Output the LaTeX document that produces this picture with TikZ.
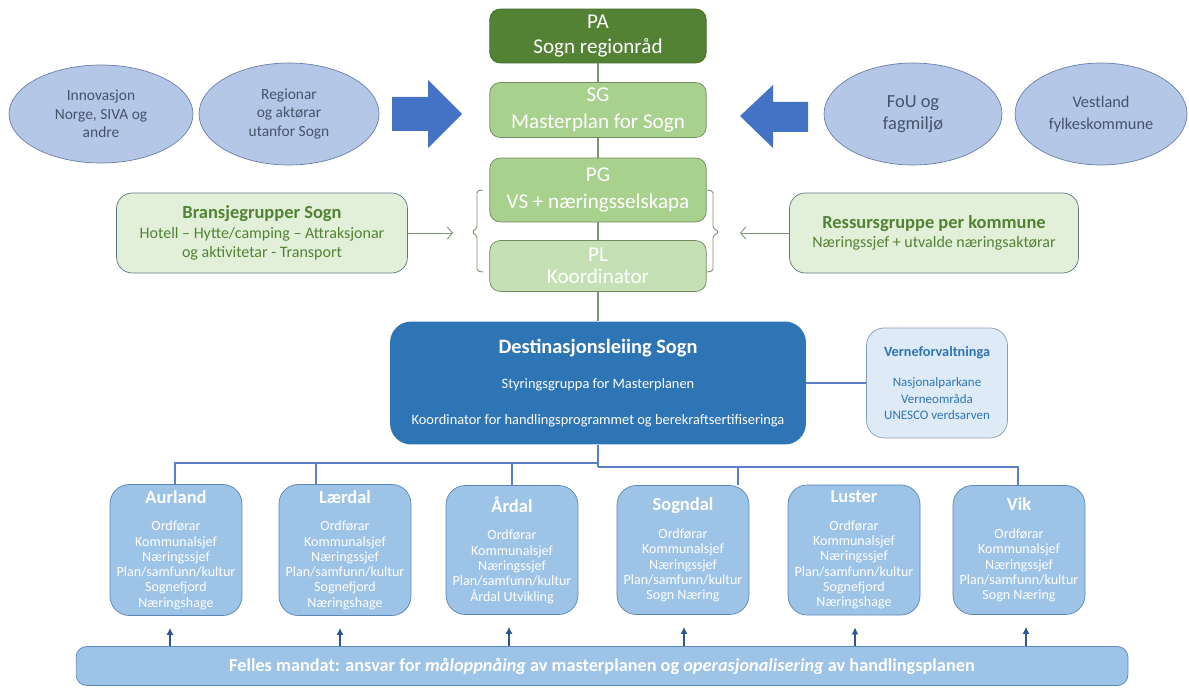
\documentclass[tikz,border=0pt]{standalone}
\usepackage{fontspec}
\setmainfont{Carlito}
\usetikzlibrary{arrows.meta,shapes.geometric}
\definecolor{padark}{HTML}{548235}
\definecolor{paborder}{HTML}{41692A}
\definecolor{sgfill}{HTML}{A9D18E}
\definecolor{plfill}{HTML}{C5E0B4}
\definecolor{sgborder}{HTML}{71895F}
\definecolor{sidefill}{HTML}{E2F0D9}
\definecolor{sideborder}{HTML}{5F7486}
\definecolor{cloudfill}{HTML}{B4C7E7}
\definecolor{cloudborder}{HTML}{6A7FA8}
\definecolor{cloudtext}{HTML}{44546A}
\definecolor{arrowblue}{HTML}{4472C4}
\definecolor{destblue}{HTML}{2E75B6}
\definecolor{vernefill}{HTML}{DEEBF7}
\definecolor{verneborder}{HTML}{8A9CB5}
\definecolor{komfill}{HTML}{9DC3E6}
\definecolor{komborder}{HTML}{5A86B6}
\definecolor{busblue}{HTML}{5B7FC7}
\definecolor{chaingray}{HTML}{7E9470}
\definecolor{mandateblue}{HTML}{2F5597}
\tikzset{%
    topbox/.style={rounded corners=6pt, draw=sgborder, fill=#1, text=white,
        minimum width=4.33cm, align=center, inner sep=1pt,
        font=\fontsize{12}{14}\selectfont},
    sidebox/.style={rounded corners=9pt, draw=sideborder, fill=sidefill, text=padark,
        minimum height=1.6cm, align=center, font=\fontsize{9.1}{10.4}\selectfont},
    cloud/.style={ellipse, draw=cloudborder, fill=cloudfill, text=cloudtext,
        align=center, inner sep=0pt},
    kommune/.style={rounded corners=11pt, draw=komborder, fill=komfill, text=white,
        minimum width=2.64cm, minimum height=2.58cm, align=center,
        font=\fontsize{8}{8.7}\selectfont},
    bus/.style={draw=busblue, line width=0.6pt},
    chainline/.style={draw=chaingray, line width=0.6pt},
    bracket/.style={draw=chaingray, line width=0.5pt, rounded corners=1pt},
    feed/.style={draw=chaingray, line width=0.5pt, -{Straight Barb[length=3pt,width=7pt]}},
    mandate/.style={draw=mandateblue, line width=0.7pt, -{Latex[length=4pt,width=4pt]},
        shorten >=0.24cm}
}
\newcommand{\komtitle}[1]{{\fontsize{10.5}{12}\selectfont\bfseries #1}\\[7pt]}

\begin{document}
\begin{tikzpicture}[x=0.02cm,y=-0.02cm]
    \useasboundingbox (0,0) rectangle (1189,689);
    % styringskjeda
    \node[topbox=padark, draw=paborder, minimum height=1.08cm] (pa) at (598,36) {PA\\Sogn regionråd};
    \node[topbox=sgfill, minimum height=1.10cm, font=\fontsize{12}{15}\selectfont] (sg) at (598,110) {SG\\Masterplan for Sogn};
    \node[topbox=sgfill, minimum height=1.28cm, font=\fontsize{12}{15}\selectfont] (pg) at (598,190) {PG\\VS + næringsselskapa};
    \node[topbox=plfill, minimum height=1.02cm, font=\fontsize{12}{12.5}\selectfont] (pl) at (598,266) {PL\\Koordinator};
    \node[rounded corners=12pt, fill=destblue, text=white, minimum width=8.32cm,
        minimum height=2.46cm, align=center, font=\fontsize{8.2}{10}\selectfont] (dest) at (598,383)
        {{\fontsize{11.6}{13}\selectfont\bfseries Destinasjonsleiing Sogn}\\[10pt]
         Styringsgruppa for Masterplanen\\[10pt]
         Koordinator for handlingsprogrammet og berekraftsertifiseringa};
    \draw[chainline] (pa.south) -- (sg.north);
    \draw[chainline] (sg.south) -- (pg.north);
    \draw[chainline] (pg.south) -- (pl.north);
    \draw[chainline] (pl.south) -- (dest.north);

    % ytre aktørar
    \node[cloud, minimum width=3.68cm, minimum height=1.96cm, font=\fontsize{8.8}{10.5}\selectfont] (inno) at (101,114) {Innovasjon\\Norge, SIVA og\\andre};
    \node[cloud, minimum width=3.6cm, minimum height=2.04cm, font=\fontsize{8.8}{10.8}\selectfont] (reg) at (289,114) {Regionar\\og aktørar\\utanfor Sogn};
    \node[cloud, minimum width=3.56cm, minimum height=2.04cm, font=\fontsize{10.5}{12.5}\selectfont] (fou) at (913,114) {FoU og\\fagmiljø};
    \node[cloud, minimum width=3.44cm, minimum height=2.04cm, font=\fontsize{9.3}{12.5}\selectfont] (vest) at (1101,114) {Vestland\\fylkeskommune};
    \fill[arrowblue] (392,97) -- (428,97) -- (428,80) -- (462,114) -- (428,148) -- (428,131) -- (392,131) -- cycle;
    \fill[arrowblue] (808,102) -- (773,102) -- (773,85) -- (740,116) -- (773,148) -- (773,132) -- (808,132) -- cycle;

    % bransje og ressursgrupper
    \node[sidebox, minimum width=5.82cm] (brs) at (262,233)
        {{\fontsize{10.5}{12}\selectfont\bfseries Bransjegrupper Sogn}\\[1pt]Hotell – Hytte/camping – Attraksjonar\\og aktivitetar - Transport};
    \node[sidebox, minimum width=5.78cm] (res) at (934,233)
        {{\fontsize{10.5}{12}\selectfont\bfseries Ressursgruppe per kommune}\\Næringssjef + utvalde næringsaktørar};
    \draw[bracket] (483,190) -- (477,191) -- (477,228) -- (472,232) -- (477,236) -- (477,271) -- (483,272);
    \draw[bracket] (707,190) -- (713,191) -- (713,228) -- (719,232) -- (713,236) -- (713,271) -- (707,272);
    \coordinate (lbr) at (472,237);
    \coordinate (rbr) at (725,237);
    \draw[feed, shorten >=0.38cm] (brs.east) -- (brs.east -| lbr);
    \draw[feed, shorten >=0.3cm] (res.west) -- (res.west -| rbr);

    % verneforvaltning
    \node[rounded corners=10pt, draw=verneborder, fill=vernefill, text=destblue,
        minimum width=2.82cm, minimum height=2.2cm, align=center,
        font=\fontsize{7.4}{9.3}\selectfont] (verne) at (937,383)
        {{\fontsize{8.1}{9}\selectfont\bfseries Verneforvaltninga}\\[8pt]
         Nasjonalparkane\\Verneområda\\UNESCO verdsarven};
    \draw[bus] (dest.east) -- (verne.west);

    % kommunane
    \node[kommune] (aur) at (176,550) {\komtitle{Aurland}Ordførar\\Kommunalsjef\\Næringssjef\\Plan/samfunn/kultur\\Sognefjord\\Næringshage};
    \node[kommune] (lae) at (345,550) {\komtitle{Lærdal}Ordførar\\Kommunalsjef\\Næringssjef\\Plan/samfunn/kultur\\Sognefjord\\Næringshage};
    \node[kommune] (ard) at (512,550) {\komtitle{Årdal}Ordførar\\Kommunalsjef\\Næringssjef\\Plan/samfunn/kultur\\Årdal Utvikling};
    \node[kommune] (sog) at (683,550) {\komtitle{Sogndal}Ordførar\\Kommunalsjef\\Næringssjef\\Plan/samfunn/kultur\\Sogn Næring};
    \node[kommune] (lus) at (854,550) {\komtitle{Luster}Ordførar\\Kommunalsjef\\Næringssjef\\Plan/samfunn/kultur\\Sognefjord\\Næringshage};
    \node[kommune] (vik) at (1019,550) {\komtitle{Vik}Ordførar\\Kommunalsjef\\Næringssjef\\Plan/samfunn/kultur\\Sogn Næring};

    \coordinate (busl) at (598,463);
    \coordinate (busr) at (598,467);
    \draw[bus] (dest.south) -- (busr);
    \draw[bus] (busl) -| ([xshift=-0.02cm]aur.north);
    \draw[bus] (busl) -| ([xshift=-0.58cm]lae.north);
    \draw[bus] (busl) -| (ard.north);
    \draw[bus] (busr) -| ([xshift=1.1cm]sog.north);
    \draw[bus] (busr) -| ([xshift=-0.02cm]vik.north);

    % felles mandat
    \node[rounded corners=6pt, draw=komborder, fill=komfill, text=white,
        minimum width=21.04cm, minimum height=0.78cm,
        font=\fontsize{10.4}{11}\selectfont\bfseries] (bar) at (602,666)
        {Felles mandat: ansvar for \textit{måloppnåing} av masterplanen og \textit{operasjonalisering} av handlingsplanen};
    \foreach \m/\dx in {aur/-6,lae/-5,ard/-3,sog/1,lus/1,vik/7}
        \draw[mandate] ([xshift=\dx*0.02cm]bar.north -| \m.south) -- ([xshift=\dx*0.02cm]\m.south);
\end{tikzpicture}
\end{document}
